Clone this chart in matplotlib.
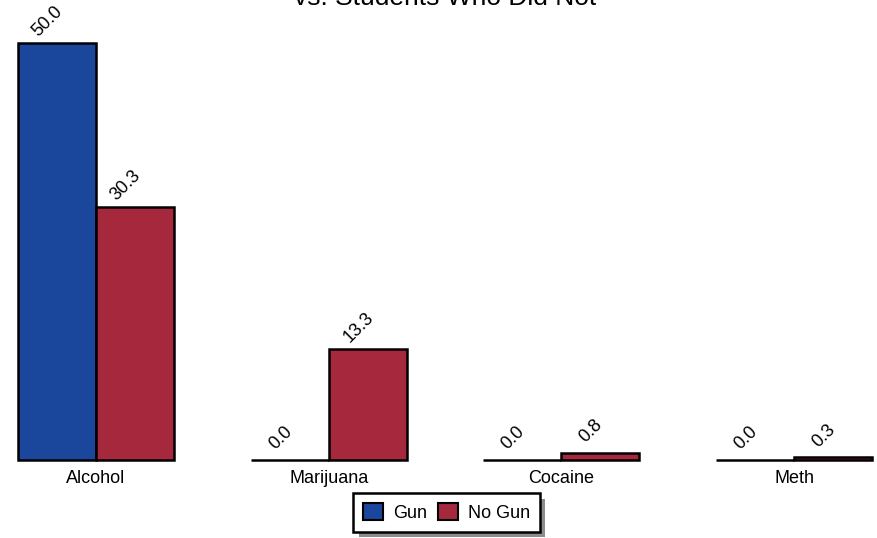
import matplotlib
matplotlib.use("Agg")
import matplotlib.pyplot as plt
import matplotlib.patches as mpatches
import numpy as np

plt.rcParams['font.family'] = ['Liberation Sans', 'DejaVu Sans']

# data
drugs = ["Alcohol", "Marijuana", "Cocaine", "Meth"]
gun = [50.0, 0.0, 0.0, 0.0]
no_gun = [30.3, 13.3, 0.8, 0.3]
title_line = "vs. Students Who Did Not"

blue = "#1a479b"
red = "#a5283d"

fig = plt.figure(figsize=(8.78, 5.38), dpi=100)
ax = fig.add_axes([18/878, 78/538, 854/878, 460/538])

x = np.arange(len(drugs))
w = 0.335
b1 = ax.bar(x - w/2, gun, w, color=blue, edgecolor="black", linewidth=1.8,
            label="Gun", clip_on=False)
b2 = ax.bar(x + w/2, no_gun, w, color=red, edgecolor="black", linewidth=1.8,
            label="No Gun", clip_on=False)

# value labels, rotated
for bars, vals in [(b1, gun), (b2, no_gun)]:
    for rect, v in zip(bars, vals):
        ax.annotate(f"{v:.1f}", (rect.get_x() + rect.get_width()/2, v),
                    xytext=(-9, 22), textcoords="offset pixels",
                    ha="center", va="center", rotation=45, fontsize=13,
                    annotation_clip=False)

ax.set_xlim(-0.335, 3.335)
ax.set_ylim(0, 55.16)
ax.set_xticks(x, drugs, fontsize=13)
ax.tick_params(axis="x", length=0, pad=7)
ax.yaxis.set_visible(False)
for s in ax.spines.values():
    s.set_visible(False)

fig.text(445/878, 1 - 5/538, title_line, ha="center", va="baseline", fontsize=19)

leg = fig.legend(loc="upper center", bbox_to_anchor=(446.5/878, 1 - 493/538),
                 ncol=2, fontsize=13, frameon=True, fancybox=False,
                 edgecolor="black", framealpha=1, borderaxespad=0,
                 handlelength=1.1, handleheight=1.1, handletextpad=0.55,
                 columnspacing=0.6, borderpad=0.55)
leg.get_frame().set_linewidth(1.8)
leg.set_zorder(5)
for h in leg.legend_handles:
    h.set_linewidth(1.5)

# legend drop shadow, a bit larger than the default one
shadow = mpatches.Shadow(leg.legendPatch, 4, -4, facecolor="0.55",
                         edgecolor="none", alpha=1, zorder=4)
fig.add_artist(shadow)

fig.canvas.draw()
fig.savefig("out.png", dpi=100)
